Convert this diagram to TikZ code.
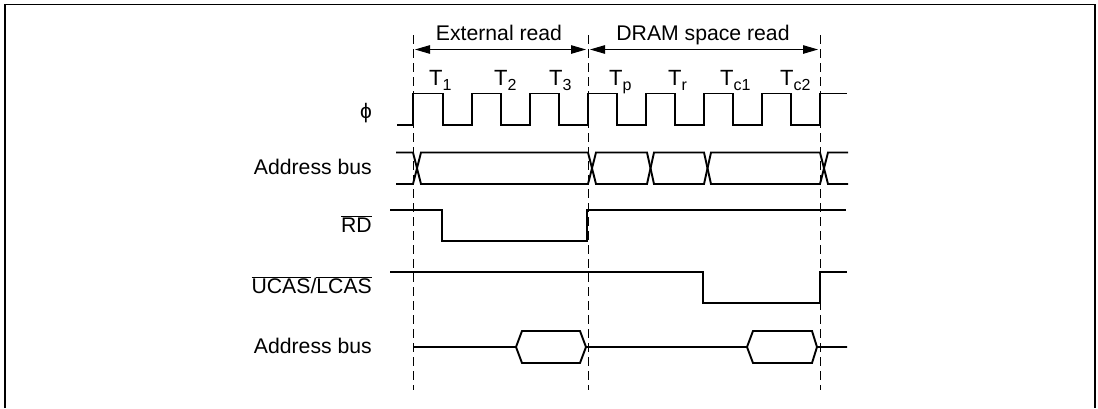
\documentclass[tikz,border=0pt]{standalone}
\usepackage{fontspec}
\setmainfont{Liberation Sans}
\usetikzlibrary{arrows.meta}

\newcommand{\barsig}[1]{$\overline{\mbox{#1}}$}

\begin{document}
\begin{tikzpicture}[x=1pt,y=-1pt,
    wave/.style={line width=1.9pt,line join=miter},
    guide/.style={line width=1pt,dash pattern=on 9pt off 5pt},
    span/.style={line width=1pt,{Triangle[length=15pt,width=8.5pt]}-{Triangle[length=15pt,width=8.5pt]},shorten <=2pt,shorten >=2pt},
    siglabel/.style={anchor=base east,font=\fontsize{21.2}{25}\selectfont,inner sep=0pt},
    spanlabel/.style={anchor=base,font=\fontsize{21.2}{25}\selectfont,inner sep=0pt},
    statelabel/.style={anchor=base west,font=\fontsize{22}{26}\selectfont,inner sep=0pt}]
  \useasboundingbox (0,0) rectangle (1098,408);
  \draw[line width=1.4pt] (5,408) -- (5,4.5) -- (1095,4.5) -- (1095,408); % outer frame, open at the bottom

  \coordinate (gone) at (413,35);
  \coordinate (gtwo) at (588,35);
  \coordinate (gthree) at (820,35);
  \draw[guide] (gone) -- (413,390); % left guide
  \draw[guide] (gtwo) -- (588,390); % middle guide
  \draw[guide] (gthree) -- (820,390); % right guide

  \coordinate (sone) at (413,49.5);
  \coordinate (stwo) at (588,49.5);
  \coordinate (sthree) at (820,49.5);
  \draw[span] (sone) -- (stwo); % first read span
  \draw[span] (stwo) -- (sthree); % second read span
  \node[spanlabel] (extread) at (499,40) {External read};
  \node[spanlabel] (dramread) at (703,40) {DRAM space read};

  \foreach \tname/\tx/\tsub in {tone/429/1,ttwo/494/2,tthree/549/3,tp/609/p,tr/668/r,tcone/720/c1,tctwo/780/c2}
    \node[statelabel] (\tname) at (\tx,85) {T\raisebox{-5pt}{\fontsize{16}{16}\selectfont\tsub}};

  \node[siglabel] (phi) at (372,118) {\fontsize{21}{24}\selectfont ϕ};
  \node[siglabel] (addrone) at (372,174.5) {Address bus};
  \node[siglabel] (rd) at (372,232) {\barsig{RD}};
  \node[siglabel] (cas) at (372,293) {\barsig{UCAS}/\barsig{LCAS}};
  \node[siglabel] (addrtwo) at (372,353) {Address bus};

  % clock
  \draw[wave] (397,125) -- (413,125) -- (413,93.5) -- (443,93.5) -- (443,125) -- (472,125) -- (472,93.5) -- (501,93.5) -- (501,125) -- (530,125) -- (530,93.5) -- (559,93.5) -- (559,125) -- (588,125) -- (588,93.5) -- (617,93.5) -- (617,125) -- (646,125) -- (646,93.5) -- (675,93.5) -- (675,125) -- (704,125) -- (704,93.5) -- (733,93.5) -- (733,125) -- (762,125) -- (762,93.5) -- (791,93.5) -- (791,125) -- (820,125) -- (820,93.5) -- (847,93.5);

  % upper address bus
  \draw[wave] (396,152.5) -- (413,152.5) -- (421,184) -- (588,184) -- (596,152.5) -- (647,152.5) -- (654,184) -- (704,184) -- (711,152.5) -- (820,152.5) -- (828,184) -- (848,184);
  \draw[wave] (396,184) -- (413,184) -- (421,152.5) -- (588,152.5) -- (596,184) -- (647,184) -- (654,152.5) -- (704,152.5) -- (711,184) -- (820,184) -- (828,152.5) -- (848,152.5);

  \draw[wave] (390,210) -- (442,210) -- (442,241) -- (587,241) -- (587,210) -- (846,210); % read strobe
  \draw[wave] (390,272) -- (703,272) -- (703,303) -- (820,303) -- (820,272) -- (847,272); % column strobe

  % lower address bus
  \draw[wave] (413,347) -- (516,347) -- (522,331) -- (580,331) -- (586,347) -- (747,347) -- (753,331) -- (812,331) -- (817,347) -- (847,347);
  \draw[wave] (516,347) -- (522,363) -- (580,363) -- (586,347);
  \draw[wave] (747,347) -- (753,363) -- (812,363) -- (817,347);
\end{tikzpicture}
\end{document}
